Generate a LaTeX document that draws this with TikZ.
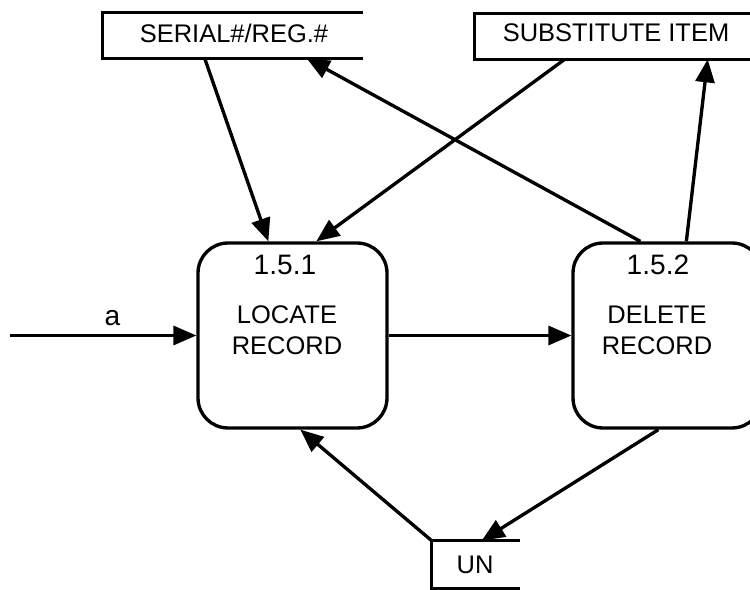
\documentclass[tikz,border=0pt]{standalone}
\usepackage{fontspec}
\setmainfont{Liberation Sans}
\usetikzlibrary{arrows.meta,positioning,calc}

\begin{document}
\begin{tikzpicture}[x=0.02cm,y=-0.02cm,
  flow/.style={line width=1.9pt,-{Triangle[length=0.46cm,width=0.38cm]}},
  proc/.style={draw,line width=1.9pt,rounded corners=0.6cm,
               minimum width=3.78cm,minimum height=3.7cm},
  store/.style={inner sep=0pt,minimum height=0.9cm},
  edge/.style={line width=1.9pt},
  lbl/.style={font=\fontsize{14.5}{17.5}\selectfont,align=center},
  num/.style={font=\fontsize{16}{18}\selectfont}]
  \clip (0,0) rectangle (750,590);

  % data stores (open on the right)
  \node[store,minimum width=5.2cm] (ser) at (233,35.5) {};
  \node[store,minimum width=5.64cm] (sub) at (616,36.5) {};
  \node[store,minimum width=1.76cm,minimum height=0.94cm] (un) at (476,564.5) {};
  \draw[edge] (ser.north east) -- (ser.north west) -- (ser.south west) -- (ser.south east);
  \draw[edge] (sub.north east) -- (sub.north west) -- (sub.south west) -- (sub.south east);
  \draw[edge] (un.north east) -- (un.north west) -- (un.south west) -- (un.south east);
  \node[lbl] (sertxt) at (234,33) {SERIAL\#/REG.\#};
  \node[lbl] (subtxt) at (616,33) {SUBSTITUTE ITEM};
  \node[lbl] (untxt) at (475,565) {UN};

  % processes
  \node[proc] (p1) at (292.5,335.5) {};
  \node[proc] (p2) at (667.5,335.5) {};
  \node[num] (n1) at (285,265) {1.5.1};
  \node[lbl] (t1) at (287,330) {LOCATE\\RECORD};
  \node[num] (n2) at (658,265) {1.5.2};
  \node[lbl] (t2) at (657,330) {DELETE\\RECORD};

  % flows
  \coordinate (ain) at (10,335.5);
  \draw[flow] (ain) -- node[num,pos=0.55,above=1pt] (alab) {a} (p1.west);
  \draw[flow] (p1.east) -- (p2.west);
  \draw[flow] ($(ser.south west)+(102,0)$) -- ($(p1.north west)+(72,0)$);
  \draw[flow] ($(sub.south west)+(90,0)$) -- ($(p1.north west)+(120,0)$);
  \draw[flow] ($(p2.north west)+(69,0)$) -- ($(ser.south west)+(204,0)$);
  \draw[flow] ($(p2.north west)+(115,0)$) -- ($(sub.south west)+(233,0)$);
  \draw[flow] ($(p2.south west)+(87,0)$) -- ($(un.north west)+(50,0)$);
  \draw[flow] (un.north west) -- ($(p1.south west)+(104,0)$);
\end{tikzpicture}
\end{document}
